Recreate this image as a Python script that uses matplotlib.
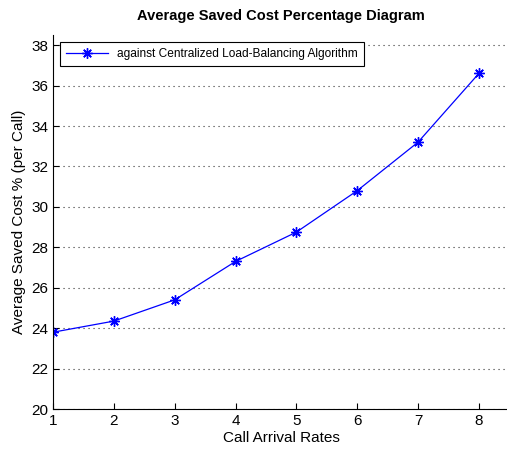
import matplotlib.pyplot as plt

# data
rates = [1, 2, 3, 4, 5, 6, 7, 8]
saved_cost = [23.8, 24.35, 25.4, 27.3, 28.75, 30.8, 33.2, 36.6]
y_ticks = [20, 22, 24, 26, 28, 30, 32, 34, 36, 38]

plt.rcParams['font.family'] = ['Liberation Sans', 'DejaVu Sans']

fig = plt.figure(figsize=(5.07, 4.55), dpi=100)
ax = fig.add_axes([0.1045, 0.101, 0.900, 0.822])

# MATLAB style asterisk marker (8 arms)
ax.plot(rates, saved_cost, '-', color='blue', linewidth=0.9, marker=(8, 2, 0),
        markersize=7.5, markeredgewidth=1.0,
        label='against Centralized Load-Balancing Algorithm')

ax.set_xlim(1, 8.5)
ax.set_ylim(20, 38.5)
ax.set_xticks(rates)
ax.set_yticks(y_ticks)
ax.tick_params(direction='in', length=4, labelsize=11, width=0.8)
ax.yaxis.grid(True, linestyle=(0, (1, 3.5)), color='#333333', linewidth=0.8)

ax.spines['top'].set_visible(False)
ax.spines['right'].set_visible(False)

ax.set_title('Average Saved Cost Percentage Diagram', fontsize=10.5, fontweight='bold', pad=11)
ax.set_xlabel('Call Arrival Rates', fontsize=11, labelpad=2)
ax.set_ylabel('Average Saved Cost % (per Call)', fontsize=11, labelpad=4)

leg = ax.legend(loc='upper left', fontsize=8.6, fancybox=False, framealpha=1,
                edgecolor='black', borderpad=0.5, handlelength=3.5,
                bbox_to_anchor=(0.0, 1.0), borderaxespad=0.6)
leg.get_frame().set_linewidth(0.8)

fig.savefig('out.png', dpi=100)
